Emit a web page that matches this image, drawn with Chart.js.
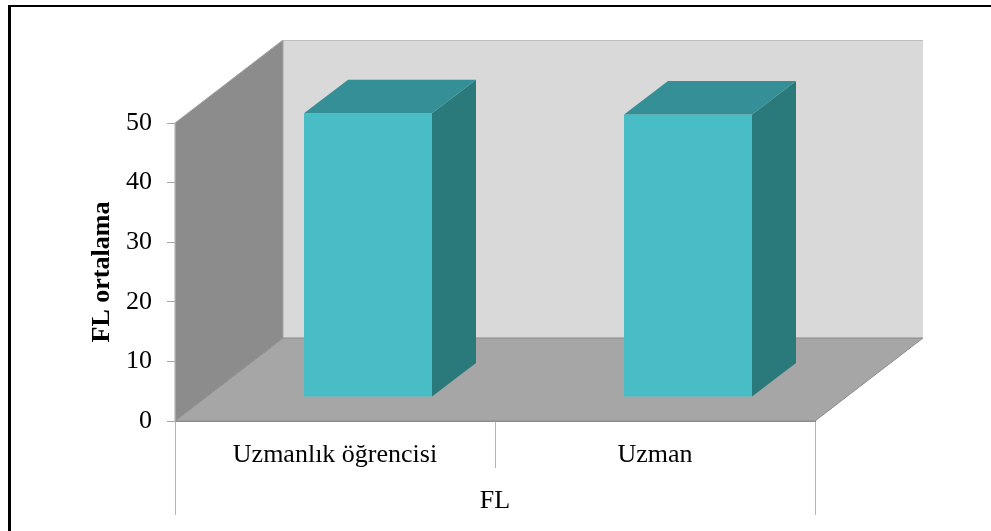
<!DOCTYPE html>
<html>
<head>
<meta charset="utf-8">
<script src="https://cdn.jsdelivr.net/npm/chart.js@4/dist/chart.umd.min.js"></script>
<style>
  html, body { margin: 0; padding: 0; background: #ffffff; }
  #wrap { width: 991px; height: 531px; }
</style>
</head>
<body>
<div id="wrap"><canvas id="c" width="991" height="531"></canvas></div>
<script>
// ---- data ----
const categories = ["Uzmanlık öğrencisi", "Uzman"];
const groupLabel = "FL";
const seriesValues = [47.6, 47.4];
const yTicks = [0, 10, 20, 30, 40, 50];
const yTitle = "FL ortalama";

// ---- styling ----
const FONT = "'Liberation Serif', 'Times New Roman', serif";
const WALL_DX = 108, WALL_DY = -83;   // 3D depth of the walls
const BAR_DX = 33, BAR_DY = -24;      // bar front plane offset
const SIDE_DX = 44, SIDE_DY = -33.5;  // bar depth

const threeD = {
  id: 'threeD',
  beforeDraw(chart) {
    const ctx = chart.ctx;
    const xs = chart.scales.x, ys = chart.scales.y;
    ctx.save();
    ctx.fillStyle = '#ffffff';
    ctx.fillRect(0, 0, chart.width, chart.height);
    // outer frame (top + left visible)
    ctx.fillStyle = '#000000';
    ctx.fillRect(8, 5, chart.width - 8, 2);
    ctx.fillRect(8, 5, 3, chart.height - 5);

    const L = xs.left, R = xs.right;
    const y0 = ys.getPixelForValue(yTicks[0]);
    const yTop = ys.getPixelForValue(yTicks[yTicks.length - 1]);
    ctx.lineWidth = 1;
    // back wall
    ctx.fillStyle = '#d9d9d9';
    ctx.fillRect(L + WALL_DX, yTop + WALL_DY, R - L, y0 - yTop);
    ctx.strokeStyle = '#bfbfbf';
    ctx.beginPath();
    ctx.moveTo(L + WALL_DX, yTop + WALL_DY + 0.5);
    ctx.lineTo(R + WALL_DX, yTop + WALL_DY + 0.5);
    ctx.stroke();
    // left wall
    ctx.fillStyle = '#8c8c8c';
    ctx.beginPath();
    ctx.moveTo(L, yTop);
    ctx.lineTo(L + WALL_DX, yTop + WALL_DY);
    ctx.lineTo(L + WALL_DX, y0 + WALL_DY);
    ctx.lineTo(L, y0);
    ctx.closePath();
    ctx.fill();
    ctx.strokeStyle = '#a6a6a6';
    ctx.stroke();
    // floor
    ctx.fillStyle = '#a6a6a6';
    ctx.beginPath();
    ctx.moveTo(L, y0);
    ctx.lineTo(L + WALL_DX, y0 + WALL_DY);
    ctx.lineTo(R + WALL_DX, y0 + WALL_DY);
    ctx.lineTo(R, y0);
    ctx.closePath();
    ctx.fill();
    ctx.strokeStyle = '#8c8c8c';
    ctx.stroke();

    // category dividers below the axis
    const n = categories.length;
    const half = (xs.getPixelForValue(1) - xs.getPixelForValue(0)) / 2;
    ctx.strokeStyle = '#b3b3b3';
    for (let i = 0; i <= n; i++) {
      const px = Math.round((i < n ? xs.getPixelForValue(i) - half : xs.getPixelForValue(n - 1) + half)) + 0.5;
      const outer = (i === 0 || i === n);
      ctx.beginPath();
      ctx.moveTo(px, y0);
      ctx.lineTo(px, outer ? y0 + 94 : y0 + 47);
      ctx.stroke();
    }
    ctx.restore();
  },
  beforeDatasetsDraw(chart) {
    chart.ctx.save();
    chart.ctx.translate(BAR_DX, BAR_DY);
  },
  afterDatasetsDraw(chart) {
    const ctx = chart.ctx;
    ctx.restore();
    const meta = chart.getDatasetMeta(0);
    ctx.save();
    meta.data.forEach(bar => {
      const p = bar.getProps(['x', 'y', 'base', 'width'], true);
      const l = p.x - p.width / 2 + BAR_DX, r = p.x + p.width / 2 + BAR_DX;
      const t = p.y + BAR_DY, b = p.base + BAR_DY;
      // side face
      ctx.fillStyle = '#2a7a7c';
      ctx.beginPath();
      ctx.moveTo(r, t);
      ctx.lineTo(r + SIDE_DX, t + SIDE_DY);
      ctx.lineTo(r + SIDE_DX, b + SIDE_DY);
      ctx.lineTo(r, b);
      ctx.closePath();
      ctx.fill();
      // top face
      ctx.fillStyle = '#358f96';
      ctx.beginPath();
      ctx.moveTo(l, t);
      ctx.lineTo(l + SIDE_DX, t + SIDE_DY);
      ctx.lineTo(r + SIDE_DX, t + SIDE_DY);
      ctx.lineTo(r, t);
      ctx.closePath();
      ctx.fill();
    });
    ctx.restore();
  }
};

new Chart(document.getElementById('c'), {
  type: 'bar',
  data: {
    labels: categories,
    datasets: [{
      data: seriesValues,
      backgroundColor: '#48bdc6',
      borderWidth: 0,
      barPercentage: 0.4,
      categoryPercentage: 1.0,
      clip: false
    }]
  },
  options: {
    responsive: false,
    animation: false,
    devicePixelRatio: 1,
    layout: { padding: { left: 87, top: 123, right: 176, bottom: 0 } },
    plugins: { legend: { display: false }, tooltip: { enabled: false } },
    scales: {
      x: {
        offset: true,
        grid: { display: false, drawTicks: false },
        border: { display: true, color: '#8c8c8c', width: 1 },
        ticks: { color: '#000', font: { family: FONT, size: 26 }, padding: 19, maxRotation: 0, autoSkip: false },
        title: { display: true, text: groupLabel, color: '#000', font: { family: FONT, size: 26 }, padding: { top: 0, bottom: 14 } },
        afterFit(s) { s.height = 110; }
      },
      y: {
        min: yTicks[0],
        max: yTicks[yTicks.length - 1],
        afterBuildTicks(s) { s.ticks = yTicks.map(v => ({ value: v })); },
        grid: { drawOnChartArea: false, drawTicks: true, tickLength: 8, color: '#a6a6a6' },
        border: { display: true, color: '#a6a6a6', width: 1 },
        ticks: { color: '#000', font: { family: FONT, size: 26 }, padding: 15 },
        title: { display: true, text: yTitle, color: '#000', font: { family: FONT, size: 26, weight: 'bold' }, padding: 0 },
        afterFit(s) { s.width = 88; }
      }
    }
  },
  plugins: [threeD]
});
</script>
</body>
</html>
